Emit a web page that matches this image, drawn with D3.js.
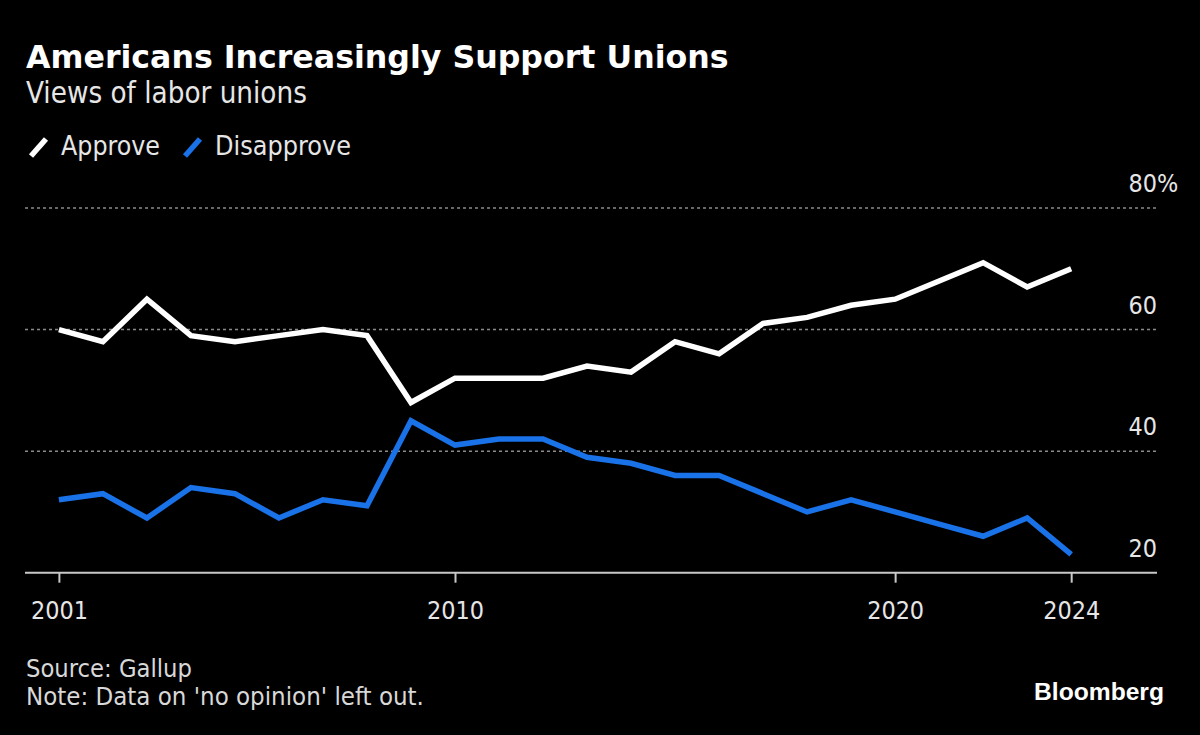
<!DOCTYPE html>
<html><head><meta charset="utf-8">
<script src="https://cdn.jsdelivr.net/npm/d3@7"></script>
<style>
html,body{margin:0;padding:0;background:#000;}
svg{display:block;}
text{font-family:"DejaVu Sans Condensed","Liberation Sans Narrow","DejaVu Sans",sans-serif;font-stretch:condensed;}
</style></head>
<body><svg id="chart" width="1200" height="735"></svg>
<script>
const years = [2001,2002,2003,2004,2005,2006,2007,2008,2009,2010,2011,2012,2013,2014,2015,2016,2017,2018,2019,2020,2021,2022,2023,2024];
const approve = [60,58,65,59,58,59,60,59,48,52,52,52,54,53,58,56,61,62,64,65,68,71,67,70];
const disapprove = [32,33,29,34,33,29,32,31,45,41,42,42,39,38,36,36,33,30,32,30,28,26,29,23];
const yTicks = [20,40,60,80];
const xTicks = [2001,2010,2020,2024];
const seriesNames = ["Approve","Disapprove"];
const seriesColors = ["#ffffff","#1a72e8"];

const svg = d3.select("#chart");
svg.append("rect").attr("width",1200).attr("height",735).attr("fill","#000");

const x = d3.scaleLinear().domain([2000.23, 2025.95]).range([25, 1157]);
const y = d3.scaleLinear().domain([20, 80]).range([572.7, 208]);

function fit(sel, w){
  const node = sel.node();
  let fs = parseFloat(sel.attr("font-size"));
  const len = node.getComputedTextLength();
  if (len>0) sel.attr("font-size", (fs*w/len).toFixed(2));
  return parseFloat(sel.attr("font-size"));
}

// measure tick font size
const probe = svg.append("text").attr("font-size",22).text("2020");
const tickFs = fit(probe, 57);
probe.remove();

// Title
fit(svg.append("text").attr("x",26).attr("y",68).attr("fill","#fff").attr("font-weight","bold")
  .attr("font-size",30).style("font-family","'DejaVu Sans',sans-serif").style("font-stretch","normal")
  .text("Americans Increasingly Support Unions"), 703);
fit(svg.append("text").attr("x",26).attr("y",103).attr("fill","#e6e6e6").attr("font-size",22)
  .text("Views of labor unions"), 281);

// Legend
const leg = svg.append("g");
const legX = [[28,61],[182,215]];
seriesNames.forEach((n,i)=>{
  leg.append("line").attr("x1",legX[i][0]+3).attr("y1",156).attr("x2",legX[i][0]+18).attr("y2",139)
    .attr("stroke",seriesColors[i]).attr("stroke-width",5.5).attr("stroke-linecap","butt");
  const t = leg.append("text").attr("x",legX[i][1]).attr("y",155).attr("fill","#e6e6e6").attr("font-size",22).text(n);
  fit(t, i===0?99:136);
});

// Grid
const gridG = svg.append("g");
yTicks.filter(d=>d>20).forEach(v=>{
  gridG.append("line").attr("x1",25).attr("x2",1157).attr("y1",y(v)).attr("y2",y(v))
    .attr("stroke","#8a8a8a").attr("stroke-width",1.5).attr("stroke-dasharray","3,3");
});
yTicks.forEach(v=>{
  gridG.append("text").attr("x",1157).attr("y",y(v)-16).attr("text-anchor","end")
    .attr("fill","#e6e6e6").attr("font-size",tickFs).text(v);
  if (v===80){
    gridG.append("text").attr("x",1157).attr("y",y(v)-16).attr("fill","#e6e6e6").attr("font-size",tickFs).text("%");
  }
});

// X axis
const xAxis = d3.axisBottom(x).tickValues(xTicks).tickFormat(d3.format("d")).tickSize(10).tickPadding(10);
const ax = svg.append("g").attr("transform",`translate(0,${y(20)})`).call(xAxis);
ax.select(".domain").attr("stroke","#c8c8c8").attr("stroke-width",2).attr("d","M25,0H1157");
ax.selectAll(".tick line").attr("stroke","#c8c8c8").attr("stroke-width",2);
ax.selectAll(".tick text").attr("fill","#e6e6e6").attr("font-size",tickFs).attr("dy",null).attr("y",46)
  .style("font-family","'DejaVu Sans Condensed','Liberation Sans Narrow','DejaVu Sans',sans-serif");

// Lines
const line = d3.line().x((d,i)=>x(years[i])).y(d=>y(d)).curve(d3.curveLinear);
[approve, disapprove].forEach((s,i)=>{
  svg.append("path").datum(s).attr("d",line).attr("fill","none").attr("stroke",seriesColors[i])
    .attr("stroke-width",5.5).attr("stroke-linejoin","miter");
});

// Footer
fit(svg.append("text").attr("x",26).attr("y",677).attr("fill","#d8d8d8").attr("font-size",19).text("Source: Gallup"), 166);
fit(svg.append("text").attr("x",26).attr("y",705).attr("fill","#d8d8d8").attr("font-size",19).text("Note: Data on 'no opinion' left out."), 398);
const bb = svg.append("text").attr("x",1164).attr("y",700).attr("text-anchor","end").attr("fill","#fff")
  .attr("font-weight","bold").attr("font-size",21).style("font-family","'Liberation Sans',Arial,sans-serif").style("font-stretch","normal")
  .text("Bloomberg");
fit(bb, 130);
</script></body></html>
